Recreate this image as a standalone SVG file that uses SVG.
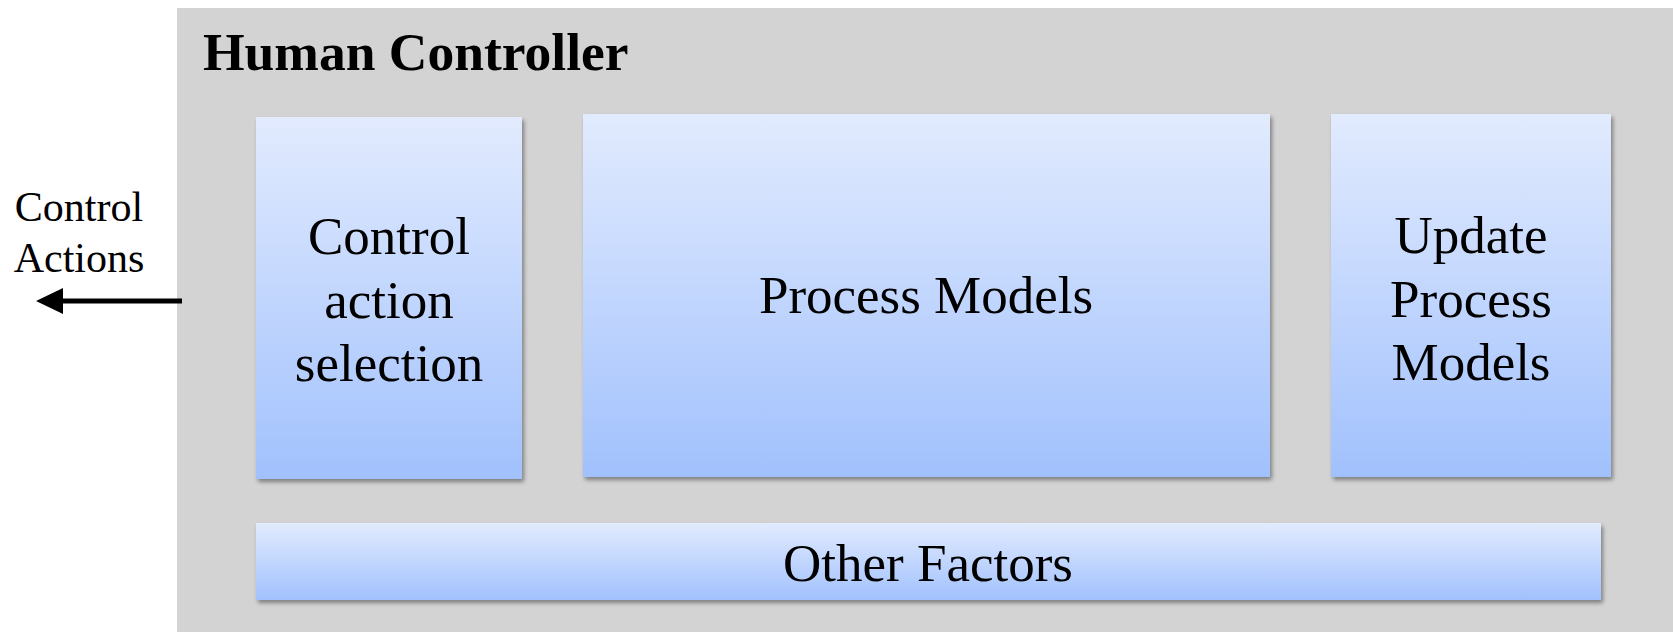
<svg xmlns="http://www.w3.org/2000/svg" width="1673" height="632" viewBox="0 0 1673 632">
  <defs>
    <linearGradient id="boxGrad" x1="0" y1="0" x2="0" y2="1">
      <stop offset="0" stop-color="#E2EBFE"/>
      <stop offset="1" stop-color="#A1C1FD"/>
    </linearGradient>
    <filter id="shadow" x="-10%" y="-10%" width="120%" height="130%">
      <feGaussianBlur in="SourceAlpha" stdDeviation="2"/>
      <feOffset dx="2" dy="3" result="b"/>
      <feComponentTransfer><feFuncA type="linear" slope="0.4"/></feComponentTransfer>
      <feMerge><feMergeNode/><feMergeNode in="SourceGraphic"/></feMerge>
    </filter>
  </defs>
  <style>
    .box { fill: url(#boxGrad); filter: url(#shadow); }
    .lbl { font-family: "Liberation Serif", "Times New Roman", serif; font-size: 53px; fill: #000; text-anchor: middle; }
    .side { font-family: "Liberation Serif", "Times New Roman", serif; font-size: 42px; fill: #000; text-anchor: middle; }
    .title { font-family: "Liberation Serif", "Times New Roman", serif; font-size: 53.5px; font-weight: bold; fill: #000; }
  </style>
  <rect width="1673" height="632" fill="#FFFFFF"/>
  <g id="human-controller">
    <rect x="177" y="8" width="1496" height="624" fill="#D3D3D3"/>
    <text class="title" x="203" y="70">Human Controller</text>
  </g>
  <g id="control-action-selection">
    <rect class="box" x="256" y="117" width="266" height="362"/>
    <text class="lbl" x="389" y="254">Control</text>
    <text class="lbl" x="389" y="318">action</text>
    <text class="lbl" x="389" y="381">selection</text>
  </g>
  <g id="process-models">
    <rect class="box" x="583" y="114" width="687" height="363"/>
    <text class="lbl" x="926" y="313">Process Models</text>
  </g>
  <g id="update-process-models">
    <rect class="box" x="1331" y="114" width="280" height="363"/>
    <text class="lbl" x="1471" y="253">Update</text>
    <text class="lbl" x="1471" y="317">Process</text>
    <text class="lbl" x="1471" y="380">Models</text>
  </g>
  <g id="other-factors">
    <rect class="box" x="256" y="523" width="1345" height="77"/>
    <text class="lbl" x="928" y="581">Other Factors</text>
  </g>
  <g id="control-actions-label">
    <text class="side" x="79" y="221">Control</text>
    <text class="side" x="79" y="272">Actions</text>
  </g>
  <g id="connectors">
    <line x1="182" y1="301" x2="60" y2="301" stroke="#000" stroke-width="5"/>
    <polygon points="36,301 63,288 63,314" fill="#000"/>
  </g>
</svg>
